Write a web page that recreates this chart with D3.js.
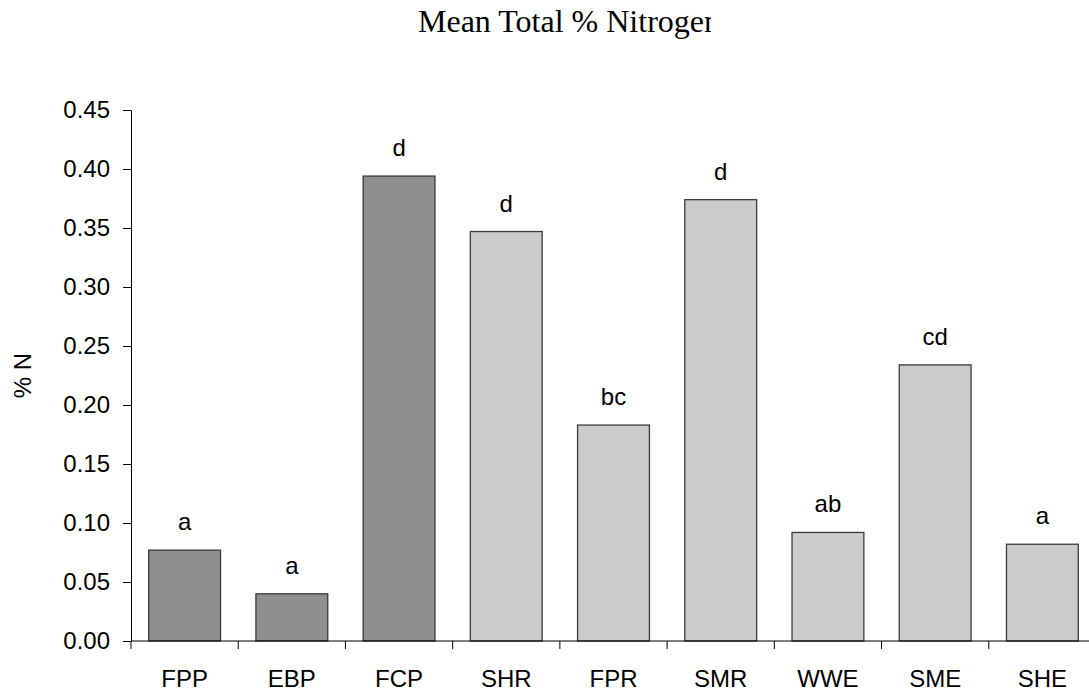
<!DOCTYPE html>
<html>
<head>
<meta charset="utf-8">
<script src="https://cdn.jsdelivr.net/npm/d3@7"></script>
<style>
  html, body { margin: 0; padding: 0; background: #fff; }
  svg { display: block; }
</style>
</head>
<body>
<svg id="chart" width="1089" height="692"></svg>
<script>
// Site codes, mean total % N and significance letters
const sites   = ["FPP", "EBP", "FCP", "SHR", "FPR", "SMR", "WWE", "SME", "SHE"];
const meanN   = [0.077, 0.040, 0.394, 0.347, 0.183, 0.374, 0.092, 0.234, 0.082];
const letters = ["a", "a", "d", "d", "bc", "d", "ab", "cd", "a"];
const group   = ["A", "A", "A", "B", "B", "B", "B", "B", "B"];
const yTicks  = [0, 0.05, 0.10, 0.15, 0.20, 0.25, 0.30, 0.35, 0.40, 0.45];

(function () {
  const svg = d3.select("#chart");
  const plotLeft = 131, plotRight = 1096, plotTop = 110, plotBottom = 641;
  const sans = "'Liberation Sans', Arial, sans-serif";

  const x = d3.scaleBand()
    .domain(sites)
    .range([plotLeft, plotRight])
    .paddingInner(0.33)
    .paddingOuter(0.165);

  const y = d3.scaleLinear().domain([0, 0.45]).range([plotBottom, plotTop]);

  const fill = d3.scaleOrdinal().domain(["A", "B"]).range(["#8f8f8f", "#cbcbcb"]);

  const data = sites.map((s, i) => ({ site: s, v: meanN[i], lab: letters[i], g: group[i] }));

  // Title (the text box cuts off the last letter)
  svg.append("clipPath").attr("id", "titleClip")
    .append("rect").attr("x", 0).attr("y", 0).attr("width", 711).attr("height", 60);
  svg.append("text")
    .attr("clip-path", "url(#titleClip)")
    .attr("x", 418).attr("y", 32)
    .attr("font-family", "'Liberation Serif', 'Times New Roman', serif")
    .attr("font-size", 32)
    .attr("fill", "#000")
    .text("Mean Total % Nitrogen");

  // Bars
  svg.append("g").selectAll("rect").data(data).join("rect")
    .attr("x", d => x(d.site))
    .attr("y", d => y(d.v))
    .attr("width", x.bandwidth())
    .attr("height", d => y(0) - y(d.v))
    .attr("fill", d => fill(d.g))
    .attr("stroke", "#3a3a3a")
    .attr("stroke-width", 1.3);

  // Significance letters
  svg.append("g").selectAll("text").data(data).join("text")
    .attr("x", d => x(d.site) + x.bandwidth() / 2)
    .attr("y", d => y(d.v) - 20)
    .attr("text-anchor", "middle")
    .attr("font-family", sans)
    .attr("font-size", 24)
    .attr("fill", "#000")
    .text(d => d.lab);

  // Y axis
  const yAxis = svg.append("g")
    .attr("transform", `translate(${plotLeft},0)`)
    .call(d3.axisLeft(y).tickValues(yTicks).tickFormat(d3.format(".2f")).tickSize(8).tickSizeOuter(0));
  yAxis.select(".domain").attr("stroke", "#000");
  yAxis.selectAll(".tick line").attr("stroke", "#000");
  yAxis.selectAll(".tick text")
    .attr("x", -21)
    .attr("font-family", sans)
    .attr("font-size", 24)
    .attr("fill", "#000");

  // X axis: line with ticks at the category boundaries
  const step = x.step();
  const bounds = d3.range(sites.length + 1).map(i => plotLeft + i * step);
  const xg = svg.append("g");
  xg.append("line")
    .attr("x1", plotLeft).attr("x2", plotRight)
    .attr("y1", plotBottom).attr("y2", plotBottom)
    .attr("stroke", "#000");
  xg.selectAll("line.tk").data(bounds).join("line")
    .attr("class", "tk")
    .attr("x1", d => d).attr("x2", d => d)
    .attr("y1", plotBottom).attr("y2", plotBottom + 8)
    .attr("stroke", "#000");
  xg.selectAll("text").data(sites).join("text")
    .attr("x", d => x(d) + x.bandwidth() / 2)
    .attr("y", 687)
    .attr("text-anchor", "middle")
    .attr("font-family", sans)
    .attr("font-size", 24)
    .attr("fill", "#000")
    .text(d => d);

  // Y axis title
  svg.append("text")
    .attr("transform", `translate(31,${(plotTop + plotBottom) / 2}) rotate(-90)`)
    .attr("text-anchor", "middle")
    .attr("font-family", sans)
    .attr("font-size", 24)
    .attr("fill", "#000")
    .text("% N");
})();
</script>
</body>
</html>
